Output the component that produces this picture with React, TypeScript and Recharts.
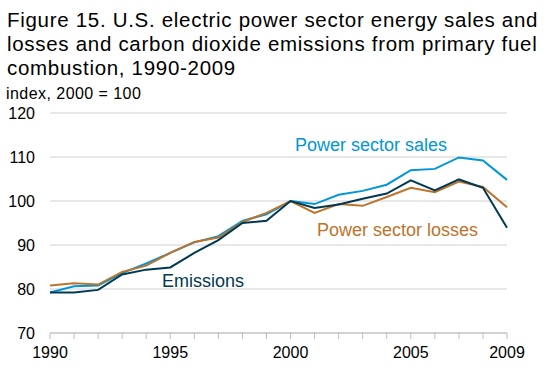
import React from 'react';
import { LineChart, Line, XAxis, YAxis, CartesianGrid } from 'recharts';

const years = [1990, 1991, 1992, 1993, 1994, 1995, 1996, 1997, 1998, 1999, 2000, 2001, 2002, 2003, 2004, 2005, 2006, 2007, 2008, 2009];
const sales = [79.2, 80.6, 80.8, 83.6, 85.8, 88.2, 90.6, 92.0, 95.5, 97.0, 100, 99.3, 101.4, 102.3, 103.7, 107.0, 107.3, 109.9, 109.2, 104.8];
const losses = [80.8, 81.3, 81.0, 83.9, 85.3, 88.2, 90.7, 91.7, 95.2, 97.3, 100, 97.3, 99.3, 98.9, 100.9, 103.0, 102.0, 104.4, 103.2, 98.6];
const emissions = [79.2, 79.2, 79.8, 83.3, 84.4, 84.9, 88.2, 91.1, 95.0, 95.5, 100, 98.4, 99.2, 100.5, 101.7, 104.7, 102.4, 104.9, 103.0, 93.9];
const yTicks = [70, 80, 90, 100, 110, 120];
const xLabelYears = [1990, 1995, 2000, 2005, 2009];
const titleLines = [
  'Figure 15. U.S. electric power sector energy sales and',
  'losses and carbon dioxide emissions from primary fuel',
  'combustion, 1990-2009',
];
const unitLabel = 'index, 2000 = 100';
const seriesNames = { sales: 'Power sector sales', losses: 'Power sector losses', emissions: 'Emissions' };

const COLORS = { sales: '#0096d7', losses: '#bd732a', emissions: '#003953' };
const FONT = '"Liberation Sans", Arial, Helvetica, sans-serif';

const data = years.map((y, i) => ({ year: y, sales: sales[i], losses: losses[i], emissions: emissions[i] }));

export default function App() {
  return (
    <div style={{ position: 'absolute', left: 0, top: 0, width: 550, height: 374, background: '#fff', fontFamily: FONT, overflow: 'hidden' }}>
      <LineChart width={550} height={374} data={data} margin={{ top: 113, right: 43, bottom: 11, left: 0 }}>
        <CartesianGrid vertical={false} stroke="#d0d0d0" strokeWidth={1} />
        <XAxis
          dataKey="year"
          type="number"
          domain={[1990, 2009]}
          ticks={years}
          interval={0}
          height={30}
          stroke="#bdbdbd"
          tickSize={6}
          tickMargin={8}
          tickFormatter={(v: number) => (xLabelYears.includes(v) ? String(v) : '')}
          tick={{ fill: '#000', fontSize: 16, fontFamily: FONT }}
        />
        <YAxis
          width={50}
          domain={[70, 120]}
          ticks={yTicks}
          interval={0}
          axisLine={false}
          tickLine={false}
          tickSize={6}
          tickMargin={9}
          tick={{ fill: '#000', fontSize: 16, fontFamily: FONT }}
        />
        <Line dataKey="sales" stroke={COLORS.sales} strokeWidth={2} dot={false} isAnimationActive={false} />
        <Line dataKey="losses" stroke={COLORS.losses} strokeWidth={2} dot={false} isAnimationActive={false} />
        <Line dataKey="emissions" stroke={COLORS.emissions} strokeWidth={2} dot={false} isAnimationActive={false} />
      </LineChart>
      <svg width={550} height={374} style={{ position: 'absolute', left: 0, top: 0, pointerEvents: 'none' }}>
        {titleLines.map((t, i) => (
          <text key={i} x={7} y={26.5 + i * 24} fontSize={20.5} letterSpacing={0.7} fontFamily={FONT} fill="#000">{t}</text>
        ))}
        <text x={6} y={99.3} fontSize={16} letterSpacing={0.45} fontFamily={FONT} fill="#000">{unitLabel}</text>
        <text x={295} y={150.5} fontSize={18} fontFamily={FONT} fill={COLORS.sales}>{seriesNames.sales}</text>
        <text x={317} y={235.5} fontSize={18} fontFamily={FONT} fill={COLORS.losses}>{seriesNames.losses}</text>
        <text x={162} y={286.5} fontSize={18} fontFamily={FONT} fill={COLORS.emissions}>{seriesNames.emissions}</text>
      </svg>
    </div>
  );
}
